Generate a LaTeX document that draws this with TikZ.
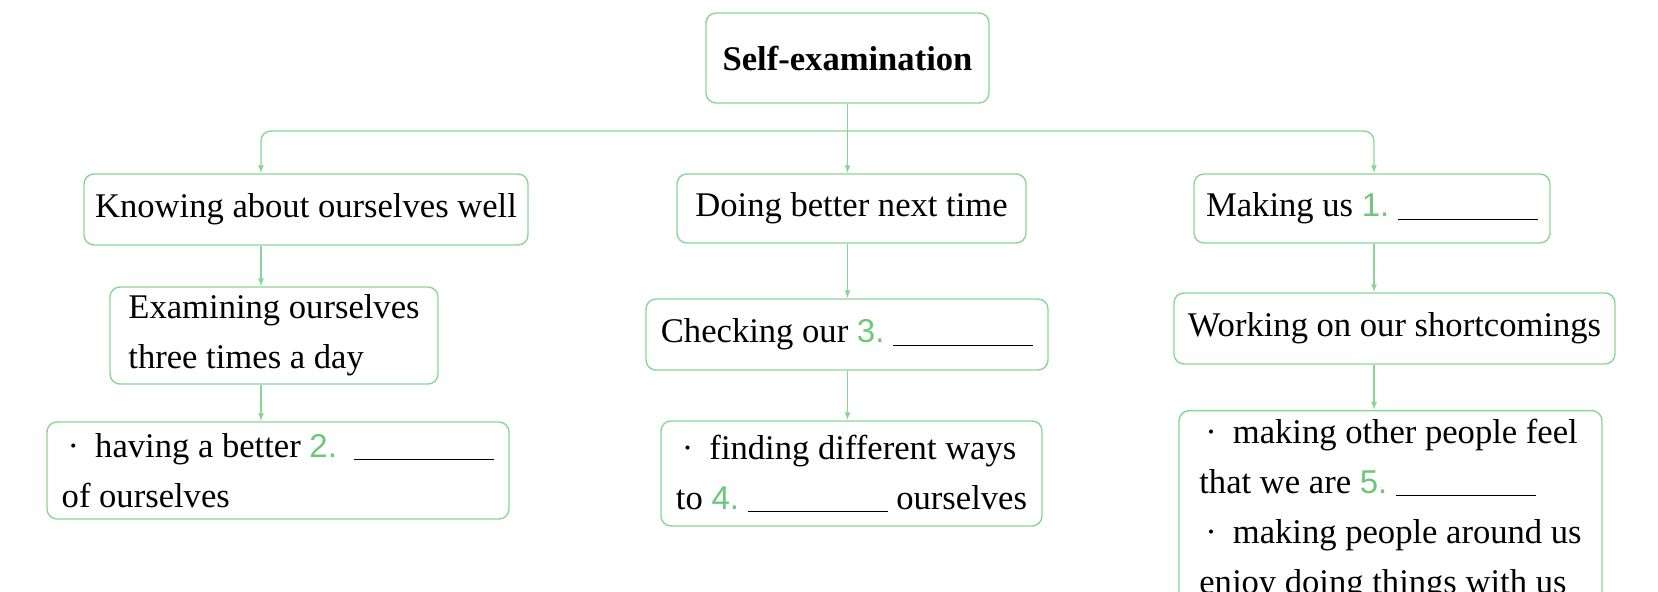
\documentclass[tikz,border=0pt]{standalone}
\usepackage{fontspec}
\setmainfont{Liberation Serif}
\newfontfamily\numfont{Liberation Sans}
\usetikzlibrary{positioning,arrows.meta}
\definecolor{boxgreen}{HTML}{8AD596}
\definecolor{numgreen}{HTML}{6CC77A}
\newcommand{\blank}{\rule[-1.5pt]{70pt}{0.6pt}}
\newcommand{\qno}[1]{{\numfont\fontsize{16.5}{16}\selectfont\color{numgreen}#1.}}
\newcommand{\dotitem}{\hspace*{3pt}\textperiodcentered\hspace{8pt}}

\begin{document}
\begin{tikzpicture}[x=0.5pt,y=-0.5pt,
   box/.style={draw=boxgreen,line width=0.7pt,rounded corners=5pt,inner sep=0pt,
               align=left,font=\fontsize{17.3}{25}\selectfont},
   link/.style={draw=boxgreen,line width=0.7pt,-{Latex[length=4pt,width=3pt]}}]
   \useasboundingbox (0,0) rectangle (1658,592);
   \clip (0,0) rectangle (1658,592);

   \node[box,minimum width=141.5pt,minimum height=45pt,
         font=\fontsize{17.3}{25}\selectfont\bfseries] (top) at (847.5,58) {Self-examination};

   % left column
   \node[box,minimum width=222pt,minimum height=35.5pt] (k_1) at (306,209.5) {Knowing about ourselves well};
   \node[box,minimum width=164pt,minimum height=48.5pt] (k_2) at (274,335.5) {Examining ourselves\\three times a day};
   \node[box,minimum width=231pt,minimum height=48.5pt] (k_3) at (278,470.5) {\dotitem having a better \qno{2}\ \ \blank\\of ourselves};

   % middle column
   \node[box,minimum width=174.5pt,minimum height=34.5pt] (d_1) at (851.5,208.5) {Doing better next time};
   \node[box,minimum width=201pt,minimum height=35.5pt] (d_2) at (847,334.5) {Checking our \qno{3}\ \blank};
   \node[box,minimum width=190.5pt,minimum height=52.5pt] (d_3) at (851.5,473.5) {\dotitem finding different ways\\to \qno{4}\ \blank\ ourselves};

   % right column
   \node[box,minimum width=178pt,minimum height=34.5pt] (m_1) at (1372,208.5) {Making us \qno{1}\ \blank};
   \node[box,minimum width=220.5pt,minimum height=35.5pt] (m_2) at (1394.5,328.5) {Working on our shortcomings};
   \node[box,minimum width=211.5pt,inner ysep=4pt,anchor=north] (m_3) at (1390.5,410)
        {\dotitem making other people feel\\that we are \qno{5}\ \blank\\\dotitem making people around us\\enjoy doing things with us};

   \coordinate (c_l) at (261,131);
   \coordinate (c_r) at (1374,131);

   \draw[link,rounded corners=5pt] (top.south |- c_l) -- (c_l) -- (c_l |- k_1.north);
   \draw[link,rounded corners=5pt] (top.south |- c_r) -- (c_r) -- (c_r |- m_1.north);

   \path
    (top.south) edge[link] (top.south |- d_1.north)
    (c_l |- k_1.south) edge[link] (c_l |- k_2.north)
    (c_l |- k_2.south) edge[link] (c_l |- k_3.north)
    (top.south |- d_1.south) edge[link] (top.south |- d_2.north)
    (top.south |- d_2.south) edge[link] (top.south |- d_3.north)
    (c_r |- m_1.south) edge[link] (c_r |- m_2.north)
    (c_r |- m_2.south) edge[link] (c_r |- m_3.north);
\end{tikzpicture}
\end{document}
